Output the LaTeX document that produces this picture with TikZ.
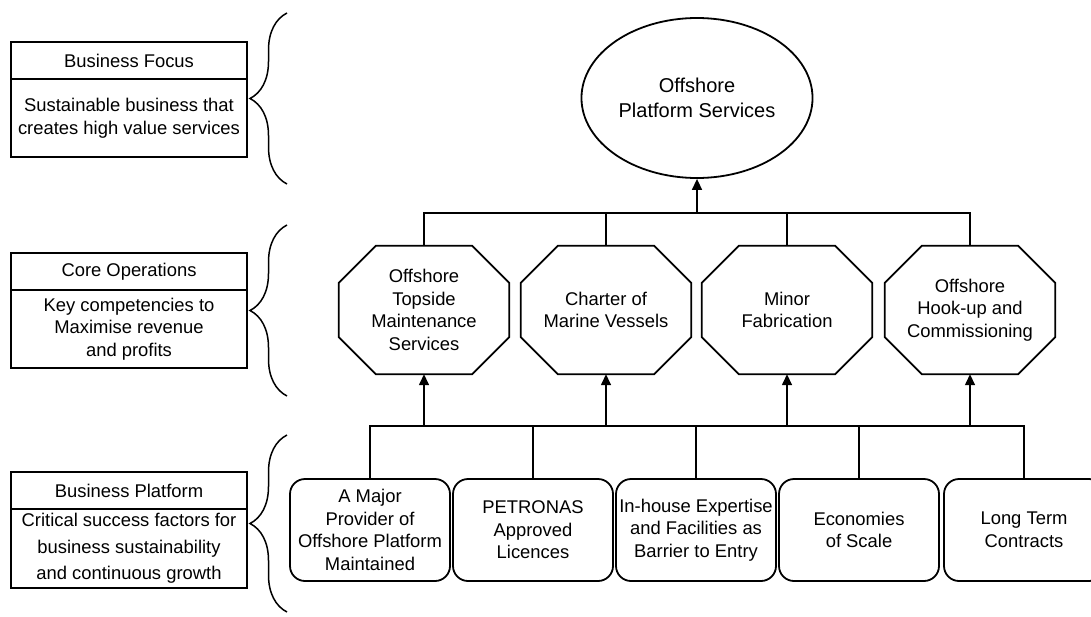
\documentclass[tikz,border=0pt]{standalone}
\usepackage{fontspec}
\setmainfont{Liberation Sans}
\usetikzlibrary{shapes.geometric,arrows.meta,decorations.pathreplacing}

\tikzset{
	lbl/.style={font=\fontsize{18.4}{22.5}\selectfont, align=center},
	headbox/.style={lbl, draw, line width=1.8pt, minimum width=236pt, minimum height=37pt, inner sep=0pt},
	bodybox/.style={headbox, minimum height=78pt},
	octa/.style={lbl, minimum width=170pt, minimum height=128pt, inner sep=0pt},
	octline/.style={line width=1.8pt, line join=miter},
	factor/.style={lbl, draw, line width=1.8pt, rounded corners=15pt, minimum width=160pt, minimum height=102pt, inner sep=2pt},
	link/.style={line width=1.5pt},
	up/.style={link, -{Triangle[length=11pt,width=10pt]}},
	brc/.style={line width=1.5pt, decorate, decoration={brace, amplitude=37pt}}
}

\begin{document}
\begin{tikzpicture}[x=1pt, y=-1pt]
			\clip (0,0) rectangle (1091,616);
			\node[headbox] (focushead) at (129,60.5) {Business Focus};
			\node[bodybox] (focusbody) at (129,118) {Sustainable business that\\creates high value services};
			\node[headbox] (corehead) at (129,271.5) {Core Operations};
			\node[bodybox] (corebody) at (129,329) {Key competencies to\\Maximise revenue\\and profits};
			\node[headbox] (basehead) at (129,490.5) {Business Platform};
			\node[bodybox, font=\fontsize{18.4}{26.5}\selectfont, minimum height=79pt] (basebody) at (129,548.5) {Critical success factors for\\business sustainability\\and continuous growth};
			\draw[brc] (287,184) -- (287,13);
			\draw[brc] (287,396) -- (287,225);
			\draw[brc] (287,612) -- (287,435);
			\node[ellipse, draw, line width=1.8pt, minimum width=218pt, minimum height=160pt, font=\fontsize{20}{25}\selectfont, align=center] (svc) at (697,98) {Offshore\\Platform Services};
			\node[octa] (ot) at (424,310) {Offshore\\Topside\\Maintenance\\Services};
			\node[octa] (mv) at (606,310) {Charter of\\Marine Vessels};
			\node[octa] (mf) at (787,310) {Minor\\Fabrication};
			\node[octa] (hc) at (970,310) {Offshore\\Hook-up and\\Commissioning};
			\foreach \n in {ot,mv,mf,hc}
				\draw[octline] ([xshift=37pt]\n.north west) -- ([xshift=-37pt]\n.north east) -- ([yshift=-37pt]\n.north east) -- ([yshift=37pt]\n.south east) -- ([xshift=-37pt]\n.south east) -- ([xshift=37pt]\n.south west) -- ([yshift=37pt]\n.south west) -- ([yshift=-37pt]\n.north west) -- cycle;
			\node[factor] (pv) at (370,530) {A Major\\Provider of\\Offshore Platform\\Maintained};
			\node[factor] (pl) at (533,530) {PETRONAS\\Approved\\Licences};
			\node[factor] (ie) at (696,530) {In-house Expertise\\and Facilities as\\Barrier to Entry};
			\node[factor] (es) at (859,530) {Economies\\of Scale};
			\node[factor] (lt) at (1024,530) {Long Term\\Contracts};
			\coordinate (topbus) at (697,213);
			\coordinate (lowbus) at (696,426);
			\draw[up] (topbus) -- (svc.south);
			\draw[link] (ot.north) |- (topbus) -| (hc.north);
			\draw[link] (mv.north) -- (mv.north |- topbus);
			\draw[link] (mf.north) -- (mf.north |- topbus);
			\draw[link] (pv.north) |- (lowbus) -| (lt.north);
			\foreach \n in {pl,ie,es}
				\draw[link] (\n.north) -- (\n.north |- lowbus);
			\foreach \n in {ot,mv,mf,hc}
				\draw[up] (\n.south |- lowbus) -- (\n.south);
		\end{tikzpicture}
\end{document}
